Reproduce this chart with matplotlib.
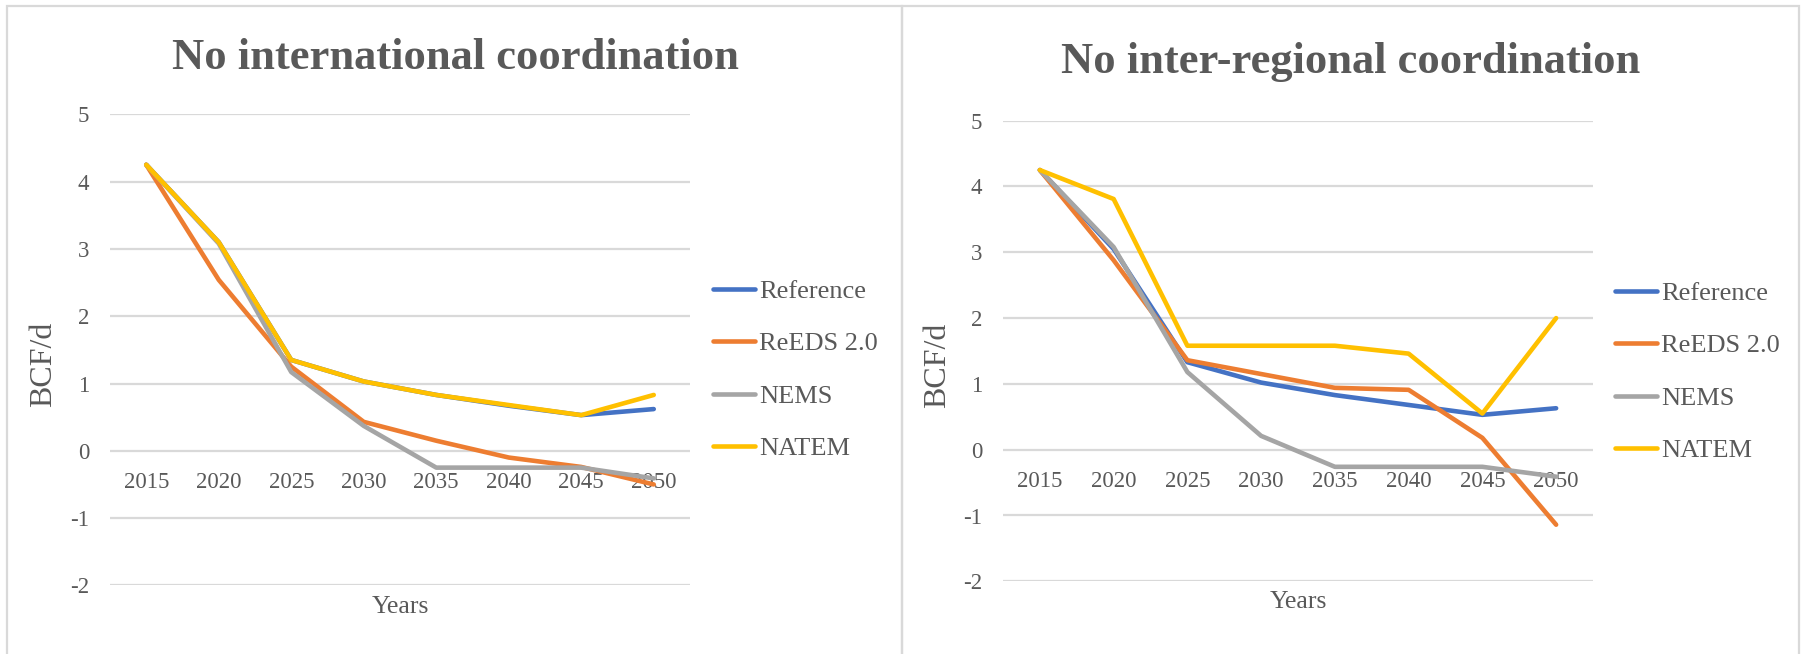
import matplotlib
matplotlib.use("Agg")
import matplotlib.pyplot as plt
from matplotlib.patches import Rectangle

plt.rcParams["font.family"] = ["Liberation Serif", "DejaVu Serif"]
plt.rcParams["axes.unicode_minus"] = False

years = ["2015", "2020", "2025", "2030", "2035", "2040", "2045", "2050"]
series_names = ["Reference", "ReEDS 2.0", "NEMS", "NATEM"]
colors = ["#4472C4", "#ED7D31", "#A5A5A5", "#FFC000"]

# No international coordination (BCF/d)
intl_reference = [4.25, 3.10, 1.35, 1.03, 0.83, 0.67, 0.53, 0.62]
intl_reeds = [4.25, 2.54, 1.25, 0.43, 0.15, -0.10, -0.24, -0.50]
intl_nems = [4.25, 3.08, 1.17, 0.37, -0.25, -0.25, -0.25, -0.41]
intl_natem = [4.25, 3.10, 1.35, 1.03, 0.83, 0.68, 0.53, 0.83]

# No inter-regional coordination (BCF/d)
reg_reference = [4.25, 3.05, 1.33, 1.02, 0.83, 0.68, 0.53, 0.63]
reg_reeds = [4.25, 2.88, 1.36, 1.15, 0.94, 0.91, 0.18, -1.14]
reg_nems = [4.25, 3.08, 1.18, 0.21, -0.26, -0.26, -0.26, -0.41]
reg_natem = [4.25, 3.81, 1.58, 1.58, 1.58, 1.46, 0.55, 2.00]

TEXT = "#595959"
GRID = "#D9D9D9"
W, H = 1804, 654


def px_rect(x0, y_top, x1, y_bot):
    """Pixel box (origin top-left) to figure-fraction [l, b, w, h]."""
    return [x0 / W, 1 - y_bot / H, (x1 - x0) / W, (y_bot - y_top) / H]


def draw_panel(fig, box, data, title, title_x, title_y, legend_xy, ylab_xy):
    ax = fig.add_axes(px_rect(*box))
    xs = range(len(years))
    for vals, name, c in zip(data, series_names, colors):
        ax.plot(xs, vals, color=c, lw=3.3, label=name,
                solid_capstyle="round", solid_joinstyle="round")

    ax.set_xlim(-0.5, len(years) - 0.5)
    ax.set_ylim(-2, 5)
    ax.set_yticks(range(-2, 6))
    ax.set_xticks(list(xs))
    ax.set_xticklabels(years)

    for s in ["top", "right", "left"]:
        ax.spines[s].set_visible(False)
    # category labels sit just under the zero line
    ax.spines["bottom"].set_position(("data", 0))
    ax.spines["bottom"].set_color("none")
    ax.tick_params(axis="x", length=0, pad=15, labelsize=16.5, labelcolor=TEXT)
    ax.tick_params(axis="y", length=0, pad=15, labelsize=16.5, labelcolor=TEXT)

    ax.yaxis.grid(True, color=GRID, lw=1.6)
    ax.set_axisbelow(True)

    ax.set_ylabel("BCF/d", fontsize=23, color=TEXT)
    ax.yaxis.set_label_coords(*ylab_xy)
    ax.text(0.5, -0.045, "Years", transform=ax.transAxes, ha="center",
            va="center", fontsize=18.5, color=TEXT)

    fig.text(title_x / W, 1 - title_y / H, title, ha="center",
             va="baseline", fontsize=32, fontweight="bold", color=TEXT)

    ax.legend(loc="center left",
              bbox_to_anchor=(legend_xy[0] / W, 1 - legend_xy[1] / H),
              bbox_transform=fig.transFigure, frameon=False, fontsize=19,
              handlelength=1.6, handletextpad=0.15, labelspacing=1.1,
              borderpad=0, borderaxespad=0, labelcolor=TEXT)
    return ax


fig = plt.figure(figsize=(W / 100, H / 100), dpi=100)

# panel frames
for x0, x1 in [(7, 902), (902, 1799)]:
    fig.patches.append(Rectangle((x0 / W, -0.1), (x1 - x0) / W, 1.1 - 6 / H,
                                 transform=fig.transFigure, fill=False,
                                 edgecolor=GRID, lw=1.6))

draw_panel(fig, (110, 114.3, 690, 585.4),
           [intl_reference, intl_reeds, intl_nems, intl_natem],
           "No international coordination", 455, 69, (713, 370),
           (-0.09, 0.47))
draw_panel(fig, (1003, 120.7, 1593, 581.3),
           [reg_reference, reg_reeds, reg_nems, reg_natem],
           "No inter-regional coordination", 1351, 73, (1615, 372),
           (-0.086, 0.47))

fig.savefig("out.png", dpi=100)
